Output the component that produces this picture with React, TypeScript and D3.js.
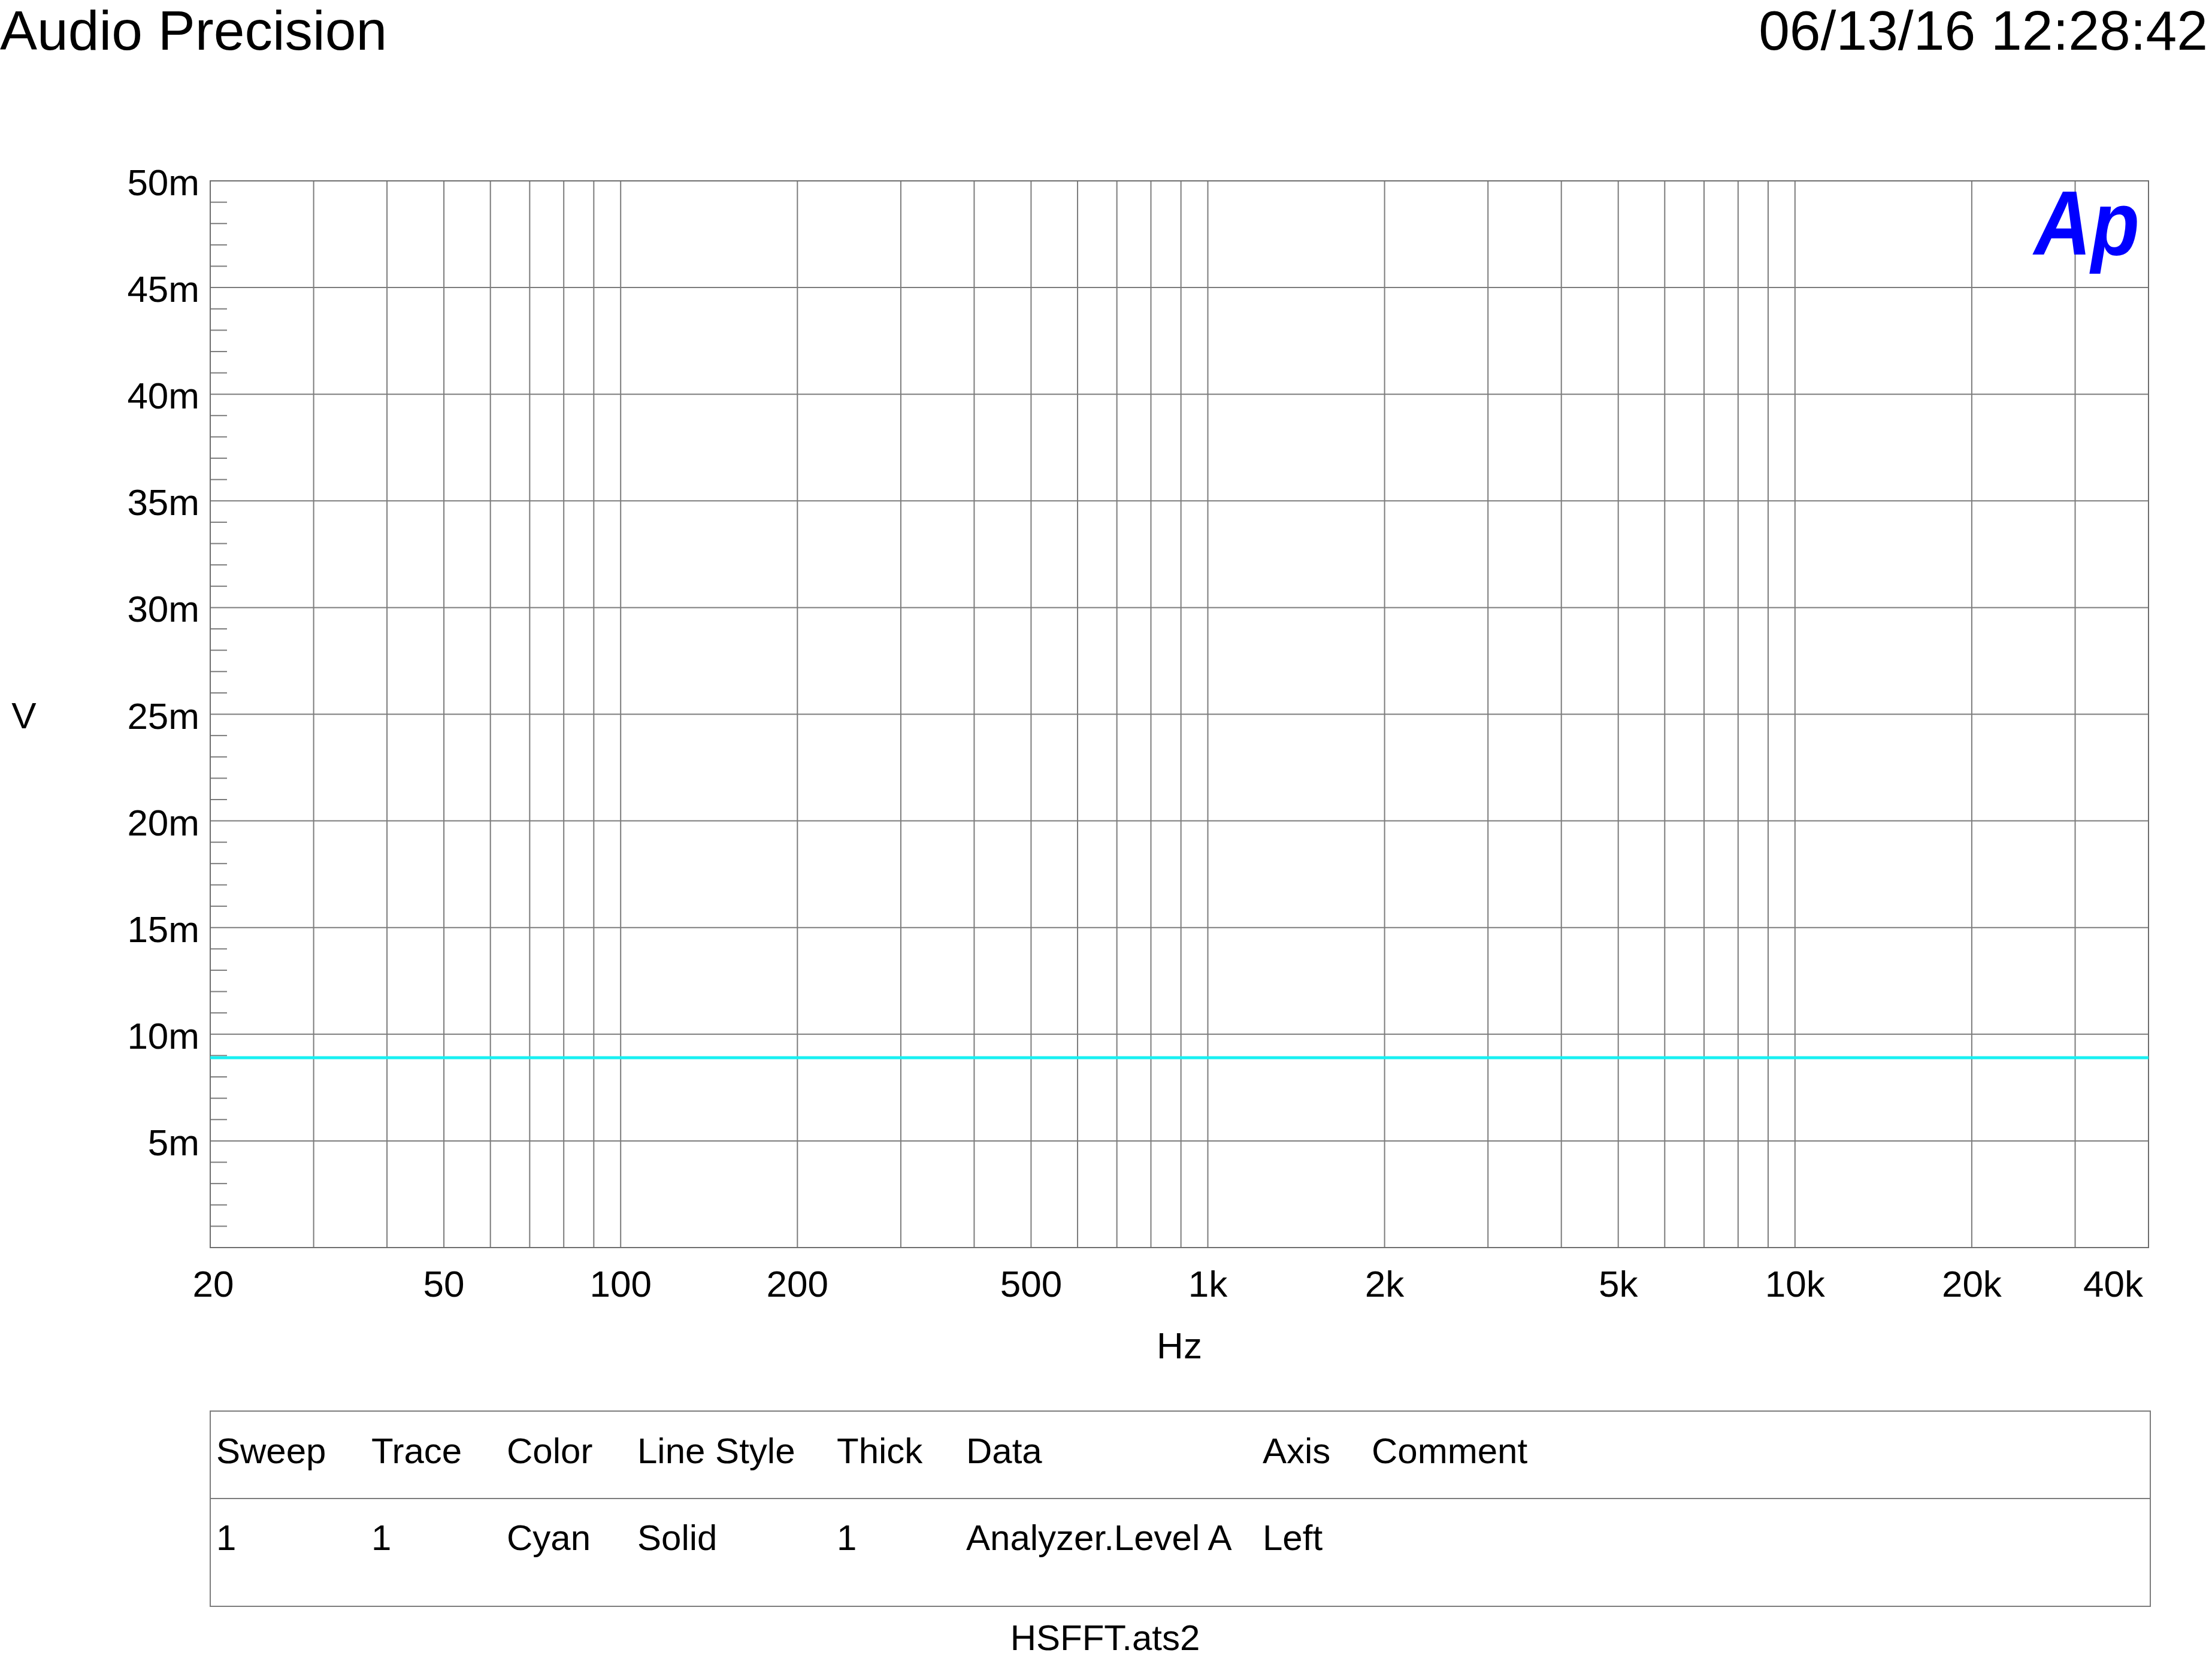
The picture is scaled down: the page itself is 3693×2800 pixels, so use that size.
import React from "react";
import * as d3 from "d3";

// trace: Analyzer.Level A (flat noise floor)
const traceFreqs: number[] = [20, 40000];
const traceLevels: number[] = [0.0089, 0.0089];

const xTickValues: number[] = [20, 50, 100, 200, 500, 1000, 2000, 5000, 10000, 20000, 40000];
const xTickLabels: string[] = ["20", "50", "100", "200", "500", "1k", "2k", "5k", "10k", "20k", "40k"];
const yTickValues: number[] = [0.005, 0.01, 0.015, 0.02, 0.025, 0.03, 0.035, 0.04, 0.045, 0.05];
const yTickLabels: string[] = ["5m", "10m", "15m", "20m", "25m", "30m", "35m", "40m", "45m", "50m"];

const legendHeaders: string[] = ["Sweep", "Trace", "Color", "Line Style", "Thick", "Data", "Axis", "Comment"];
const legendRow: string[] = ["1", "1", "Cyan", "Solid", "1", "Analyzer.Level A", "Left", ""];

const W = 3693;
const H = 2800;
const font = "'Liberation Sans', Arial, sans-serif";
const gridColor = "#7c7c7c";

export default function App() {
  const plot = { left: 351, right: 3587, top: 302, bottom: 2083 };

  const x = d3.scaleLog().domain([20, 40000]).range([plot.left, plot.right]);
  const y = d3.scaleLinear().domain([0, 0.05]).range([plot.bottom, plot.top]);

  // vertical grid: every 1-2-3..9 step of each decade
  const xGrid: number[] = [];
  for (let dec = 10; dec <= 10000; dec *= 10) {
    for (let m = 1; m <= 9; m++) {
      const f = dec * m;
      if (f > 20 && f < 40000) xGrid.push(f);
    }
  }
  const yMinor = d3.range(1, 50).filter((v) => v % 5 !== 0).map((v) => v / 1000);

  const line = d3
    .line<number>()
    .x((_, i) => x(traceFreqs[i]))
    .y((d) => y(d));

  const colX = [361, 620, 846, 1064, 1397, 1613, 2108, 2290];
  const table = { left: 351, right: 3590, top: 2356, mid: 2502, bottom: 2682 };

  return (
    <svg
      width={W}
      height={H}
      viewBox={`0 0 ${W} ${H}`}
      style={{ position: "absolute", left: 0, top: 0, background: "#fff" }}
      fontFamily={font}
    >
      <rect x={0} y={0} width={W} height={H} fill="#fff" />

      <text x={0} y={83} fontSize={93} fill="#000">
        Audio Precision
      </text>
      <text x={3686} y={83} fontSize={93} fill="#000" textAnchor="end">
        06/13/16 12:28:42
      </text>

      {/* grid */}
      {xGrid.map((f) => (
        <line key={"xg" + f} x1={x(f)} x2={x(f)} y1={plot.top} y2={plot.bottom} stroke={gridColor} strokeWidth={2} />
      ))}
      {yTickValues.slice(0, -1).map((v) => (
        <line key={"yg" + v} x1={plot.left} x2={plot.right} y1={y(v)} y2={y(v)} stroke={gridColor} strokeWidth={2} />
      ))}
      {yMinor.map((v) => (
        <line key={"ym" + v} x1={plot.left} x2={plot.left + 28} y1={y(v)} y2={y(v)} stroke={gridColor} strokeWidth={2} />
      ))}
      <rect
        x={plot.left}
        y={plot.top}
        width={plot.right - plot.left}
        height={plot.bottom - plot.top}
        fill="none"
        stroke="#6e6e6e"
        strokeWidth={2}
      />

      {/* trace */}
      <path d={line(traceLevels) || ""} fill="none" stroke="#18F0F2" strokeWidth={5} />

      {/* logo */}
      <text
        x={3396}
        y={425}
        fontSize={152}
        fontWeight="bold"
        fontStyle="italic"
        fill="#0000FF"
        textLength={176}
        lengthAdjust="spacingAndGlyphs"
      >
        Ap
      </text>

      {/* y tick labels */}
      {yTickValues.map((v, i) => (
        <text key={"yl" + v} x={333} y={y(v) + 24} fontSize={62} textAnchor="end" fill="#000">
          {yTickLabels[i]}
        </text>
      ))}
      <text x={40} y={1216} fontSize={62} textAnchor="middle" fill="#000">
        V
      </text>

      {/* x tick labels */}
      {xTickValues.map((f, i) => {
        const last = i === xTickValues.length - 1;
        return (
          <text
            key={"xl" + f}
            x={last ? 3578 : x(f) + (i === 0 ? 5 : 0)}
            y={2165}
            fontSize={62}
            textAnchor={last ? "end" : "middle"}
            fill="#000"
          >
            {xTickLabels[i]}
          </text>
        );
      })}
      <text x={1969} y={2268} fontSize={62} textAnchor="middle" fill="#000">
        Hz
      </text>

      {/* legend table */}
      <rect
        x={table.left}
        y={table.top}
        width={table.right - table.left}
        height={table.bottom - table.top}
        fill="none"
        stroke={gridColor}
        strokeWidth={2}
      />
      <line x1={table.left} x2={table.right} y1={table.mid} y2={table.mid} stroke={gridColor} strokeWidth={2} />
      {legendHeaders.map((h, i) => (
        <text key={"lh" + h} x={colX[i]} y={2443} fontSize={60} fill="#000">
          {h}
        </text>
      ))}
      {legendRow.map((c, i) => (
        <text key={"lr" + i} x={colX[i]} y={2588} fontSize={60} fill="#000">
          {c}
        </text>
      ))}
      <text x={1845} y={2755} fontSize={60} textAnchor="middle" fill="#000">
        HSFFT.ats2
      </text>
    </svg>
  );
}
